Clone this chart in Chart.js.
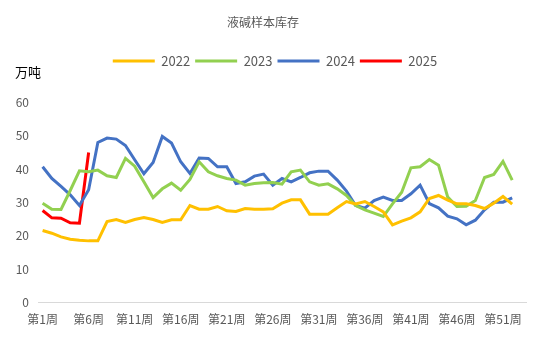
<!DOCTYPE html>
<html>
<head>
<meta charset="utf-8">
<script src="https://cdn.jsdelivr.net/npm/chart.js@4/dist/chart.umd.min.js"></script>
<style>
  body { margin: 0; background: #fff; }
  #wrap { width: 550px; height: 344px; }
</style>
</head>
<body>
<div id="wrap"><canvas id="stockChart" width="550" height="344"></canvas></div>
<script>
// Weekly sample inventory of liquid caustic soda (10k tonnes)
const weeks = [];
for (let i = 1; i <= 53; i++) weeks.push('第' + i + '周');

const y2022 = [21.6, 20.8, 19.7, 19.0, 18.7, 18.5, 18.5, 24.3, 24.9, 24.0,
               24.9, 25.5, 24.9, 24.0, 24.8, 24.8, 29.1, 28.0, 28.0, 28.8,
               27.5, 27.3, 28.2, 28.0, 28.0, 28.1, 29.8, 30.8, 30.8, 26.5,
               26.5, 26.5, 28.4, 30.3, 29.6, 30.3, 28.8, 27.2, 23.3, 24.4,
               25.4, 27.2, 31.2, 32.1, 30.7, 29.6, 29.6, 29.1, 28.2, 29.8,
               31.8, 29.5];
const y2023 = [29.8, 28.0, 27.9, 33.6, 39.5, 39.2, 39.7, 38.0, 37.5, 43.2,
               40.9, 36.2, 31.5, 34.1, 35.8, 33.7, 36.9, 42.2, 39.2, 38.0,
               37.2, 36.7, 35.2, 35.7, 35.9, 36.0, 35.5, 39.2, 39.7, 36.2,
               35.2, 35.6, 34.1, 32.1, 29.1, 27.8, 26.8, 25.8, 29.6, 33.1,
               40.4, 40.7, 42.9, 41.2, 31.6, 28.8, 28.9, 30.6, 37.5, 38.4,
               42.3, 36.7];
const y2024 = [40.7, 37.2, 34.8, 32.3, 29.1, 33.8, 48.0, 49.3, 49.0, 47.1,
               42.8, 38.6, 42.0, 49.8, 47.8, 42.2, 38.7, 43.3, 43.2, 40.7,
               40.7, 35.7, 36.2, 37.9, 38.5, 35.2, 37.2, 36.2, 37.5, 38.9,
               39.4, 39.4, 36.7, 33.4, 29.1, 28.3, 30.6, 31.6, 30.6, 30.6,
               32.6, 35.2, 29.7, 28.4, 25.9, 25.1, 23.3, 24.7, 27.8, 30.1,
               30.1, 31.4];
const y2025 = [27.6, 25.4, 25.3, 23.9, 23.8, 45.0];

const FONT = '"Noto Sans CJK SC", "Noto Sans", sans-serif';
const GREY = '#595959';

// unit label drawn above the value axis
const unitLabel = {
    id: 'unitLabel',
    afterDraw(chart) {
        const ctx = chart.ctx;
        ctx.save();
        ctx.fillStyle = '#000';
        ctx.font = '13px ' + FONT;
        ctx.textBaseline = 'middle';
        ctx.fillText('万吨', 15, 72);
        ctx.restore();
    }
};

// extra room under the legend, and nudge the legend to the right
const legendTweak = {
    id: 'legendTweak',
    beforeInit(chart) {
        const fit = chart.legend.fit;
        chart.legend.fit = function () {
            fit.bind(chart.legend)();
            this.height += 25;
        };
    },
    afterLayout(chart) {
        chart.legend.left += 12;
        chart.legend.right += 12;
    }
};

function series(label, data, color) {
    return {
        label: label,
        data: data,
        borderColor: color,
        backgroundColor: color,
        borderWidth: 3,
        pointRadius: 0,
        pointHoverRadius: 0,
        tension: 0,
        fill: false
    };
}

new Chart(document.getElementById('stockChart').getContext('2d'), {
    type: 'line',
    data: {
        labels: weeks,
        datasets: [
            series('2022', y2022, '#FFC000'),
            series('2023', y2023, '#92D050'),
            series('2024', y2024, '#4472C4'),
            series('2025', y2025, '#FF0000')
        ]
    },
    options: {
        responsive: false,
        animation: false,
        layout: { padding: { left: 0, right: 24, bottom: 7, top: 0 } },
        plugins: {
            title: {
                display: true,
                text: '液碱样本库存',
                color: GREY,
                font: { family: FONT, size: 12, weight: 'normal' },
                padding: { top: 15, bottom: 20 }
            },
            legend: {
                display: true,
                position: 'top',
                labels: {
                    color: GREY,
                    font: { family: FONT, size: 13 },
                    boxWidth: 42,
                    boxHeight: 3,
                    padding: 5,
                    generateLabels(chart) {
                        return Chart.defaults.plugins.legend.labels.generateLabels(chart).map(item => {
                            item.fillStyle = item.strokeStyle;
                            item.lineWidth = 0;
                            return item;
                        });
                    }
                }
            },
            tooltip: { enabled: false }
        },
        scales: {
            x: {
                type: 'category',
                offset: true,
                grid: { display: false, drawTicks: false },
                border: { display: true, color: '#D9D9D9', width: 1 },
                ticks: {
                    autoSkip: false,
                    maxRotation: 0,
                    padding: 10,
                    color: GREY,
                    font: { family: FONT, size: 12 },
                    callback: (value, index) => index % 5 === 0 ? weeks[index] : ''
                }
            },
            y: {
                min: 0,
                max: 60,
                grid: { display: false, drawTicks: false },
                border: { display: false },
                ticks: {
                    stepSize: 10,
                    padding: 9,
                    color: GREY,
                    font: { family: FONT, size: 12 }
                },
                afterFit(scale) { scale.width = 38; }
            }
        }
    },
    plugins: [unitLabel, legendTweak]
});
</script>
</body>
</html>
